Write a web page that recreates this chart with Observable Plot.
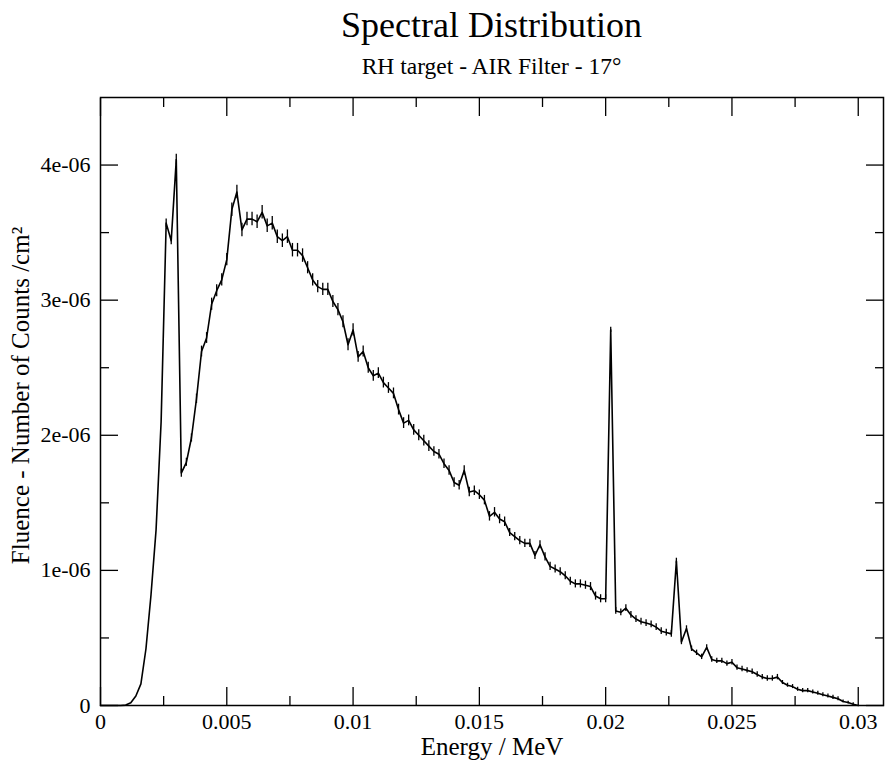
<!DOCTYPE html>
<html><head><meta charset="utf-8">
<script src="https://cdn.jsdelivr.net/npm/d3@7"></script>
<script src="https://cdn.jsdelivr.net/npm/@observablehq/plot@0.6"></script>
<style>
body{margin:0;background:#fff;}
#wrap{position:relative;width:893px;height:766px;font-family:"Liberation Serif","Times New Roman",serif;background:#fff;}
.t{position:absolute;left:100px;width:783px;text-align:center;color:#000;white-space:nowrap;}
#title{top:7px;font-size:36px;line-height:36px;}
#subtitle{top:55px;font-size:23.5px;line-height:23.5px;}
#chart{position:absolute;top:80px;left:0;}
#chart svg, #chart svg text{font-family:"Liberation Serif","Times New Roman",serif !important;}
</style></head><body>
<div id="wrap">
<div id="title" class="t">Spectral Distribution</div>
<div id="subtitle" class="t">RH target - AIR Filter - 17°</div>
<div id="chart"></div>
</div>
<script>
const UNIT = 1e-6;
const energy = [
0.0000,0.0002,0.0004,0.0006,0.0008,0.0010,0.0012,0.0014,0.0016,0.0018,
0.0020,0.0022,0.0024,0.0026,0.0028,0.0030,0.0032,0.0034,0.0036,0.0038,
0.0040,0.0042,0.0044,0.0046,0.0048,0.0050,0.0052,0.0054,0.0056,0.0058,
0.0060,0.0062,0.0064,0.0066,0.0068,0.0070,0.0072,0.0074,0.0076,0.0078,
0.0080,0.0082,0.0084,0.0086,0.0088,0.0090,0.0092,0.0094,0.0096,0.0098,
0.0100,0.0102,0.0104,0.0106,0.0108,0.0110,0.0112,0.0114,0.0116,0.0118,
0.0120,0.0122,0.0124,0.0126,0.0128,0.0130,0.0132,0.0134,0.0136,0.0138,
0.0140,0.0142,0.0144,0.0146,0.0148,0.0150,0.0152,0.0154,0.0156,0.0158,
0.0160,0.0162,0.0164,0.0166,0.0168,0.0170,0.0172,0.0174,0.0176,0.0178,
0.0180,0.0182,0.0184,0.0186,0.0188,0.0190,0.0192,0.0194,0.0196,0.0198,
0.0200,0.0202,0.0204,0.0206,0.0208,0.0210,0.0212,0.0214,0.0216,0.0218,
0.0220,0.0222,0.0224,0.0226,0.0228,0.0230,0.0232,0.0234,0.0236,0.0238,
0.0240,0.0242,0.0244,0.0246,0.0248,0.0250,0.0252,0.0254,0.0256,0.0258,
0.0260,0.0262,0.0264,0.0266,0.0268,0.0270,0.0272,0.0274,0.0276,0.0278,
0.0280,0.0282,0.0284,0.0286,0.0288,0.0290,0.0292,0.0294,0.0296,0.0298,
0.0300];
// fluence in units of 1e-6 counts/cm²
const fluence = [
0,0,0,0,0,0.003,0.02,0.07,0.16,0.42,
0.82,1.30,2.10,3.57,3.44,4.04,1.72,1.80,1.98,2.27,
2.62,2.72,2.97,3.07,3.15,3.30,3.67,3.80,3.52,3.60,
3.60,3.58,3.65,3.55,3.57,3.47,3.44,3.47,3.37,3.37,
3.33,3.24,3.15,3.10,3.08,3.08,2.99,2.93,2.84,2.67,
2.78,2.58,2.62,2.50,2.44,2.46,2.39,2.35,2.31,2.19,
2.09,2.11,2.04,2.00,1.96,1.92,1.88,1.86,1.79,1.74,
1.65,1.63,1.74,1.58,1.59,1.56,1.52,1.40,1.43,1.38,
1.36,1.28,1.25,1.22,1.20,1.20,1.11,1.19,1.10,1.03,
1.01,0.99,0.96,0.92,0.90,0.90,0.89,0.88,0.81,0.79,
0.79,2.78,0.70,0.69,0.72,0.67,0.64,0.62,0.61,0.60,
0.58,0.55,0.54,0.53,1.07,0.47,0.57,0.42,0.39,0.36,
0.43,0.34,0.33,0.33,0.31,0.32,0.28,0.27,0.26,0.25,
0.23,0.21,0.20,0.20,0.21,0.17,0.15,0.14,0.12,0.11,
0.11,0.10,0.09,0.08,0.07,0.06,0.05,0.03,0.022,0.01,
0];
// half-length of error bars, same unit
const errors = [
0,0,0,0,0,0,0,0,0,0,
0,0,0,0.03,0.03,0.04,0.03,0.03,0.03,0.035,
0.04,0.04,0.045,0.045,0.045,0.045,0.05,0.05,0.05,0.05,
0.05,0.05,0.05,0.05,0.05,0.05,0.05,0.05,0.05,0.05,
0.05,0.045,0.045,0.045,0.045,0.045,0.045,0.045,0.045,0.045,
0.045,0.04,0.04,0.04,0.04,0.04,0.04,0.04,0.04,0.04,
0.04,0.04,0.04,0.04,0.04,0.04,0.035,0.035,0.035,0.035,
0.035,0.035,0.035,0.035,0.035,0.035,0.035,0.035,0.035,0.035,
0.035,0.03,0.03,0.03,0.03,0.03,0.03,0.03,0.03,0.03,
0.03,0.03,0.03,0.03,0.03,0.03,0.03,0.03,0.03,0.03,
0.03,0.02,0.025,0.025,0.025,0.025,0.025,0.025,0.025,0.025,
0.025,0.025,0.025,0.025,0.02,0.02,0.02,0.02,0.02,0.02,
0.02,0.02,0.02,0.02,0.02,0.02,0.02,0.02,0.02,0.02,
0.02,0.02,0.02,0.02,0.02,0.015,0.015,0.015,0.015,0.015,
0.015,0.015,0.015,0.015,0.015,0.015,0.015,0.01,0.01,0.01,
0];
const xMajor = [0,0.005,0.01,0.015,0.02,0.025,0.03];
const xLabels = ["0","0.005","0.01","0.015","0.02","0.025","0.03"];
const xMinor = [0.0025,0.0075,0.0125,0.0175,0.0225,0.0275];
const yMajor = [0,1e-6,2e-6,3e-6,4e-6];
const yLabels = ["0","1e-06","2e-06","3e-06","4e-06"];
const yMinor = [0.5e-6,1.5e-6,2.5e-6,3.5e-6];
const xTitle = "Energy / MeV";
const yTitle = "Fluence - Number of Counts /cm²";

const FONT = "Liberation Serif";
const data = energy.map((e,i)=>({energy:e, fluence:fluence[i]*UNIT, err:errors[i]*UNIT}));
const none = () => "";
const chart = Plot.plot({
  width:893, height:686, marginLeft:100, marginRight:10, marginTop:17, marginBottom:61,
  style:{fontFamily:FONT, fontSize:"22px", color:"#000", background:"#fff", overflow:"visible"},
  x:{domain:[0,0.031]},
  y:{domain:[0,4.5e-6]},
  marks:[
    Plot.ruleX(data.filter(d=>d.err>0), {x:"energy", y1:d=>d.fluence-d.err, y2:d=>d.fluence+d.err, stroke:"#000", strokeWidth:1.3}),
    Plot.line(data, {x:"energy", y:"fluence", stroke:"#000", strokeWidth:1.6}),
    Plot.axisX(xMajor, {anchor:"bottom", tickSize:-18, tickPadding:26, strokeWidth:1.3, fontFamily:FONT, fontSize:22, tickFormat:d=>xLabels[xMajor.indexOf(d)], label:null}),
    Plot.axisX(xMinor, {anchor:"bottom", tickSize:-9, strokeWidth:1.3, tickFormat:none, label:null}),
    Plot.axisX(xMajor, {anchor:"top", tickSize:-18, strokeWidth:1.3, tickFormat:none, label:null}),
    Plot.axisX(xMinor, {anchor:"top", tickSize:-9, strokeWidth:1.3, tickFormat:none, label:null}),
    Plot.axisY(yMajor, {anchor:"left", tickSize:-18, tickPadding:28, strokeWidth:1.3, fontFamily:FONT, fontSize:22, tickFormat:d=>yLabels[yMajor.indexOf(d)], label:null}),
    Plot.axisY(yMinor, {anchor:"left", tickSize:-9, strokeWidth:1.3, tickFormat:none, label:null}),
    Plot.axisY(yMajor, {anchor:"right", tickSize:-18, strokeWidth:1.3, tickFormat:none, label:null}),
    Plot.axisY(yMinor, {anchor:"right", tickSize:-9, strokeWidth:1.3, tickFormat:none, label:null}),
    Plot.frame({stroke:"#000", strokeWidth:1.5}),
    Plot.text([xTitle], {frameAnchor:"bottom", textAnchor:"middle", lineAnchor:"middle", dy:41, fontSize:25, fontFamily:FONT, fill:"#000"}),
    Plot.text([yTitle], {frameAnchor:"left", textAnchor:"middle", lineAnchor:"middle", dx:-80, dy:-6, rotate:-90, fontSize:25, fontFamily:FONT, fill:"#000"})
  ]
});
document.getElementById("chart").appendChild(chart);
</script>
</body></html>
